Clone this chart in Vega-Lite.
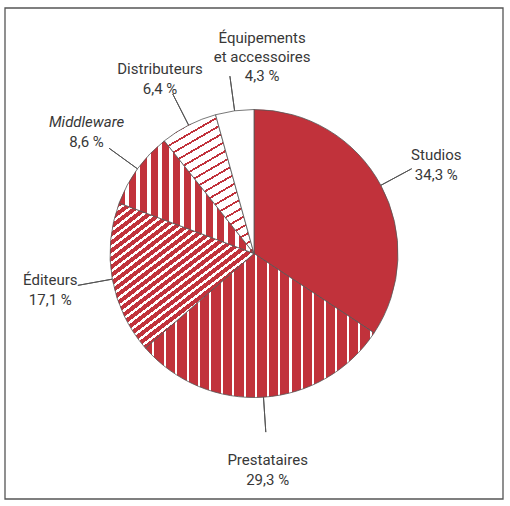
{
  "$schema": "https://vega.github.io/schema/vega-lite/v6.json",
  "width": 510,
  "height": 506,
  "autosize": {"type": "fit", "contains": "padding"},
  "padding": {"left": 4, "top": 7, "right": 6, "bottom": 6},
  "background": "white",
  "config": {
    "view": {"stroke": null},
    "text": {"font": "Roboto", "fontSize": 15, "color": "#383838", "align": "center", "baseline": "middle", "radius": 207}
  },
  "data": {
    "values": [
      {"cat": "Studios", "ord": 1, "pct": 34.3, "label": "Studios\n34,3 %", "name": "Studios", "pctText": "34,3 %"},
      {"cat": "Prestataires", "ord": 2, "pct": 29.3, "label": "Prestataires\n29,3 %", "name": "Prestataires", "pctText": "29,3 %"},
      {"cat": "Éditeurs", "ord": 3, "pct": 17.1, "label": "Éditeurs\n17,1 %", "name": "Éditeurs", "pctText": "17,1 %"},
      {"cat": "Middleware", "ord": 4, "pct": 8.6, "label": "Middleware\n8,6 %", "name": "Middleware", "pctText": "8,6 %"},
      {"cat": "Distributeurs", "ord": 5, "pct": 6.4, "label": "Distributeurs\n6,4 %", "name": "Distributeurs", "pctText": "6,4 %"},
      {"cat": "Équipements et accessoires", "ord": 6, "pct": 4.3, "label": "Équipements\net accessoires\n4,3 %", "name": "Équipements\net accessoires", "pctText": "4,3 %"}
    ]
  },
  "transform": [
    {"stack": "pct", "groupby": [], "sort": [{"field": "ord", "order": "ascending"}], "as": ["s0", "s1"]},
    {"fold": ["s0", "s1"], "as": ["edge", "pos"]},
    {
      "aggregate": [
        {"op": "min", "field": "pos", "as": "a0"},
        {"op": "max", "field": "pos", "as": "a1"},
        {"op": "mean", "field": "pos", "as": "mid"}
      ],
      "groupby": ["cat", "label", "name", "pctText"]
    }
  ],
  "layer": [
    {
      "data": {"values": [{}]},
      "mark": {"type": "rect", "fill": null, "stroke": "#555555", "strokeWidth": 1.3},
      "encoding": {
        "x": {"value": 0}, "x2": {"value": "width"},
        "y": {"value": 0}, "y2": {"value": "height"}
      }
    },
    {
      "mark": {"type": "arc", "radius": 144, "stroke": "#555555", "strokeWidth": 0.8},
      "encoding": {
        "theta": {"field": "a0", "type": "quantitative", "scale": {"domain": [0, 100]}, "stack": null},
        "theta2": {"field": "a1"},
        "fill": {
          "condition": [
            {
              "test": "datum.cat === 'Prestataires'",
              "value": {
                "gradient": "linear", "x1": 0, "y1": 0, "x2": 1, "y2": 0,
                "stops": [
                  {"offset": 0, "color": "#c1323b"},
                  {"offset": 0.03, "color": "#c1323b"}, {"offset": 0.03, "color": "#ffffff"}, {"offset": 0.039, "color": "#ffffff"}, {"offset": 0.039, "color": "#c1323b"},
                  {"offset": 0.08, "color": "#c1323b"}, {"offset": 0.08, "color": "#ffffff"}, {"offset": 0.089, "color": "#ffffff"}, {"offset": 0.089, "color": "#c1323b"},
                  {"offset": 0.13, "color": "#c1323b"}, {"offset": 0.13, "color": "#ffffff"}, {"offset": 0.139, "color": "#ffffff"}, {"offset": 0.139, "color": "#c1323b"},
                  {"offset": 0.18, "color": "#c1323b"}, {"offset": 0.18, "color": "#ffffff"}, {"offset": 0.189, "color": "#ffffff"}, {"offset": 0.189, "color": "#c1323b"},
                  {"offset": 0.23, "color": "#c1323b"}, {"offset": 0.23, "color": "#ffffff"}, {"offset": 0.239, "color": "#ffffff"}, {"offset": 0.239, "color": "#c1323b"},
                  {"offset": 0.28, "color": "#c1323b"}, {"offset": 0.28, "color": "#ffffff"}, {"offset": 0.289, "color": "#ffffff"}, {"offset": 0.289, "color": "#c1323b"},
                  {"offset": 0.33, "color": "#c1323b"}, {"offset": 0.33, "color": "#ffffff"}, {"offset": 0.339, "color": "#ffffff"}, {"offset": 0.339, "color": "#c1323b"},
                  {"offset": 0.38, "color": "#c1323b"}, {"offset": 0.38, "color": "#ffffff"}, {"offset": 0.389, "color": "#ffffff"}, {"offset": 0.389, "color": "#c1323b"},
                  {"offset": 0.43, "color": "#c1323b"}, {"offset": 0.43, "color": "#ffffff"}, {"offset": 0.439, "color": "#ffffff"}, {"offset": 0.439, "color": "#c1323b"},
                  {"offset": 0.48, "color": "#c1323b"}, {"offset": 0.48, "color": "#ffffff"}, {"offset": 0.489, "color": "#ffffff"}, {"offset": 0.489, "color": "#c1323b"},
                  {"offset": 0.53, "color": "#c1323b"}, {"offset": 0.53, "color": "#ffffff"}, {"offset": 0.539, "color": "#ffffff"}, {"offset": 0.539, "color": "#c1323b"},
                  {"offset": 0.58, "color": "#c1323b"}, {"offset": 0.58, "color": "#ffffff"}, {"offset": 0.589, "color": "#ffffff"}, {"offset": 0.589, "color": "#c1323b"},
                  {"offset": 0.63, "color": "#c1323b"}, {"offset": 0.63, "color": "#ffffff"}, {"offset": 0.639, "color": "#ffffff"}, {"offset": 0.639, "color": "#c1323b"},
                  {"offset": 0.68, "color": "#c1323b"}, {"offset": 0.68, "color": "#ffffff"}, {"offset": 0.689, "color": "#ffffff"}, {"offset": 0.689, "color": "#c1323b"},
                  {"offset": 0.73, "color": "#c1323b"}, {"offset": 0.73, "color": "#ffffff"}, {"offset": 0.739, "color": "#ffffff"}, {"offset": 0.739, "color": "#c1323b"},
                  {"offset": 0.78, "color": "#c1323b"}, {"offset": 0.78, "color": "#ffffff"}, {"offset": 0.789, "color": "#ffffff"}, {"offset": 0.789, "color": "#c1323b"},
                  {"offset": 0.83, "color": "#c1323b"}, {"offset": 0.83, "color": "#ffffff"}, {"offset": 0.839, "color": "#ffffff"}, {"offset": 0.839, "color": "#c1323b"},
                  {"offset": 0.88, "color": "#c1323b"}, {"offset": 0.88, "color": "#ffffff"}, {"offset": 0.889, "color": "#ffffff"}, {"offset": 0.889, "color": "#c1323b"},
                  {"offset": 0.93, "color": "#c1323b"}, {"offset": 0.93, "color": "#ffffff"}, {"offset": 0.939, "color": "#ffffff"}, {"offset": 0.939, "color": "#c1323b"},
                  {"offset": 0.98, "color": "#c1323b"}, {"offset": 0.98, "color": "#ffffff"}, {"offset": 0.989, "color": "#ffffff"}, {"offset": 0.989, "color": "#c1323b"},
                  {"offset": 1, "color": "#c1323b"}
                ]
              }
            },
            {
              "test": "datum.cat === 'Éditeurs'",
              "value": {
                "gradient": "linear", "x1": 0, "y1": 0, "x2": 0.843, "y2": 1.118,
                "stops": [
                  {"offset": 0, "color": "#c1323b"},
                  {"offset": 0.010, "color": "#c1323b"}, {"offset": 0.010, "color": "#ffffff"}, {"offset": 0.022, "color": "#ffffff"}, {"offset": 0.022, "color": "#c1323b"},
                  {"offset": 0.042, "color": "#c1323b"}, {"offset": 0.042, "color": "#ffffff"}, {"offset": 0.054, "color": "#ffffff"}, {"offset": 0.054, "color": "#c1323b"},
                  {"offset": 0.074, "color": "#c1323b"}, {"offset": 0.074, "color": "#ffffff"}, {"offset": 0.086, "color": "#ffffff"}, {"offset": 0.086, "color": "#c1323b"},
                  {"offset": 0.106, "color": "#c1323b"}, {"offset": 0.106, "color": "#ffffff"}, {"offset": 0.118, "color": "#ffffff"}, {"offset": 0.118, "color": "#c1323b"},
                  {"offset": 0.138, "color": "#c1323b"}, {"offset": 0.138, "color": "#ffffff"}, {"offset": 0.150, "color": "#ffffff"}, {"offset": 0.150, "color": "#c1323b"},
                  {"offset": 0.170, "color": "#c1323b"}, {"offset": 0.170, "color": "#ffffff"}, {"offset": 0.182, "color": "#ffffff"}, {"offset": 0.182, "color": "#c1323b"},
                  {"offset": 0.202, "color": "#c1323b"}, {"offset": 0.202, "color": "#ffffff"}, {"offset": 0.214, "color": "#ffffff"}, {"offset": 0.214, "color": "#c1323b"},
                  {"offset": 0.234, "color": "#c1323b"}, {"offset": 0.234, "color": "#ffffff"}, {"offset": 0.246, "color": "#ffffff"}, {"offset": 0.246, "color": "#c1323b"},
                  {"offset": 0.266, "color": "#c1323b"}, {"offset": 0.266, "color": "#ffffff"}, {"offset": 0.278, "color": "#ffffff"}, {"offset": 0.278, "color": "#c1323b"},
                  {"offset": 0.298, "color": "#c1323b"}, {"offset": 0.298, "color": "#ffffff"}, {"offset": 0.310, "color": "#ffffff"}, {"offset": 0.310, "color": "#c1323b"},
                  {"offset": 0.330, "color": "#c1323b"}, {"offset": 0.330, "color": "#ffffff"}, {"offset": 0.342, "color": "#ffffff"}, {"offset": 0.342, "color": "#c1323b"},
                  {"offset": 0.362, "color": "#c1323b"}, {"offset": 0.362, "color": "#ffffff"}, {"offset": 0.374, "color": "#ffffff"}, {"offset": 0.374, "color": "#c1323b"},
                  {"offset": 0.394, "color": "#c1323b"}, {"offset": 0.394, "color": "#ffffff"}, {"offset": 0.406, "color": "#ffffff"}, {"offset": 0.406, "color": "#c1323b"},
                  {"offset": 0.426, "color": "#c1323b"}, {"offset": 0.426, "color": "#ffffff"}, {"offset": 0.438, "color": "#ffffff"}, {"offset": 0.438, "color": "#c1323b"},
                  {"offset": 0.458, "color": "#c1323b"}, {"offset": 0.458, "color": "#ffffff"}, {"offset": 0.470, "color": "#ffffff"}, {"offset": 0.470, "color": "#c1323b"},
                  {"offset": 0.490, "color": "#c1323b"}, {"offset": 0.490, "color": "#ffffff"}, {"offset": 0.502, "color": "#ffffff"}, {"offset": 0.502, "color": "#c1323b"},
                  {"offset": 0.522, "color": "#c1323b"}, {"offset": 0.522, "color": "#ffffff"}, {"offset": 0.534, "color": "#ffffff"}, {"offset": 0.534, "color": "#c1323b"},
                  {"offset": 0.554, "color": "#c1323b"}, {"offset": 0.554, "color": "#ffffff"}, {"offset": 0.566, "color": "#ffffff"}, {"offset": 0.566, "color": "#c1323b"},
                  {"offset": 0.586, "color": "#c1323b"}, {"offset": 0.586, "color": "#ffffff"}, {"offset": 0.598, "color": "#ffffff"}, {"offset": 0.598, "color": "#c1323b"},
                  {"offset": 0.618, "color": "#c1323b"}, {"offset": 0.618, "color": "#ffffff"}, {"offset": 0.630, "color": "#ffffff"}, {"offset": 0.630, "color": "#c1323b"},
                  {"offset": 0.650, "color": "#c1323b"}, {"offset": 0.650, "color": "#ffffff"}, {"offset": 0.662, "color": "#ffffff"}, {"offset": 0.662, "color": "#c1323b"},
                  {"offset": 0.682, "color": "#c1323b"}, {"offset": 0.682, "color": "#ffffff"}, {"offset": 0.694, "color": "#ffffff"}, {"offset": 0.694, "color": "#c1323b"},
                  {"offset": 0.714, "color": "#c1323b"}, {"offset": 0.714, "color": "#ffffff"}, {"offset": 0.726, "color": "#ffffff"}, {"offset": 0.726, "color": "#c1323b"},
                  {"offset": 0.746, "color": "#c1323b"}, {"offset": 0.746, "color": "#ffffff"}, {"offset": 0.758, "color": "#ffffff"}, {"offset": 0.758, "color": "#c1323b"},
                  {"offset": 0.778, "color": "#c1323b"}, {"offset": 0.778, "color": "#ffffff"}, {"offset": 0.790, "color": "#ffffff"}, {"offset": 0.790, "color": "#c1323b"},
                  {"offset": 0.810, "color": "#c1323b"}, {"offset": 0.810, "color": "#ffffff"}, {"offset": 0.822, "color": "#ffffff"}, {"offset": 0.822, "color": "#c1323b"},
                  {"offset": 0.842, "color": "#c1323b"}, {"offset": 0.842, "color": "#ffffff"}, {"offset": 0.854, "color": "#ffffff"}, {"offset": 0.854, "color": "#c1323b"},
                  {"offset": 0.874, "color": "#c1323b"}, {"offset": 0.874, "color": "#ffffff"}, {"offset": 0.886, "color": "#ffffff"}, {"offset": 0.886, "color": "#c1323b"},
                  {"offset": 0.906, "color": "#c1323b"}, {"offset": 0.906, "color": "#ffffff"}, {"offset": 0.918, "color": "#ffffff"}, {"offset": 0.918, "color": "#c1323b"},
                  {"offset": 0.938, "color": "#c1323b"}, {"offset": 0.938, "color": "#ffffff"}, {"offset": 0.950, "color": "#ffffff"}, {"offset": 0.950, "color": "#c1323b"},
                  {"offset": 0.970, "color": "#c1323b"}, {"offset": 0.970, "color": "#ffffff"}, {"offset": 0.982, "color": "#ffffff"}, {"offset": 0.982, "color": "#c1323b"},
                  {"offset": 1, "color": "#c1323b"}
                ]
              }
            },
            {
              "test": "datum.cat === 'Middleware'",
              "value": {
                "gradient": "linear", "x1": 0, "y1": 0, "x2": 1, "y2": 0,
                "stops": [
                  {"offset": 0, "color": "#c1323b"},
                  {"offset": 0.040, "color": "#c1323b"}, {"offset": 0.040, "color": "#ffffff"}, {"offset": 0.072, "color": "#ffffff"}, {"offset": 0.072, "color": "#c1323b"},
                  {"offset": 0.122, "color": "#c1323b"}, {"offset": 0.122, "color": "#ffffff"}, {"offset": 0.154, "color": "#ffffff"}, {"offset": 0.154, "color": "#c1323b"},
                  {"offset": 0.204, "color": "#c1323b"}, {"offset": 0.204, "color": "#ffffff"}, {"offset": 0.236, "color": "#ffffff"}, {"offset": 0.236, "color": "#c1323b"},
                  {"offset": 0.286, "color": "#c1323b"}, {"offset": 0.286, "color": "#ffffff"}, {"offset": 0.318, "color": "#ffffff"}, {"offset": 0.318, "color": "#c1323b"},
                  {"offset": 0.368, "color": "#c1323b"}, {"offset": 0.368, "color": "#ffffff"}, {"offset": 0.400, "color": "#ffffff"}, {"offset": 0.400, "color": "#c1323b"},
                  {"offset": 0.450, "color": "#c1323b"}, {"offset": 0.450, "color": "#ffffff"}, {"offset": 0.482, "color": "#ffffff"}, {"offset": 0.482, "color": "#c1323b"},
                  {"offset": 0.532, "color": "#c1323b"}, {"offset": 0.532, "color": "#ffffff"}, {"offset": 0.564, "color": "#ffffff"}, {"offset": 0.564, "color": "#c1323b"},
                  {"offset": 0.614, "color": "#c1323b"}, {"offset": 0.614, "color": "#ffffff"}, {"offset": 0.646, "color": "#ffffff"}, {"offset": 0.646, "color": "#c1323b"},
                  {"offset": 0.696, "color": "#c1323b"}, {"offset": 0.696, "color": "#ffffff"}, {"offset": 0.728, "color": "#ffffff"}, {"offset": 0.728, "color": "#c1323b"},
                  {"offset": 0.778, "color": "#c1323b"}, {"offset": 0.778, "color": "#ffffff"}, {"offset": 0.810, "color": "#ffffff"}, {"offset": 0.810, "color": "#c1323b"},
                  {"offset": 0.860, "color": "#c1323b"}, {"offset": 0.860, "color": "#ffffff"}, {"offset": 0.892, "color": "#ffffff"}, {"offset": 0.892, "color": "#c1323b"},
                  {"offset": 0.942, "color": "#c1323b"}, {"offset": 0.942, "color": "#ffffff"}, {"offset": 0.974, "color": "#ffffff"}, {"offset": 0.974, "color": "#c1323b"},
                  {"offset": 1, "color": "#c1323b"}
                ]
              }
            },
            {
              "test": "datum.cat === 'Distributeurs'",
              "value": {
                "gradient": "linear", "x1": 0, "y1": 0, "x2": 0.4506, "y2": 1.205,
                "stops": [
                  {"offset": 0, "color": "#ffffff"},
                  {"offset": 0.020, "color": "#ffffff"}, {"offset": 0.020, "color": "#c1323b"}, {"offset": 0.031, "color": "#c1323b"}, {"offset": 0.031, "color": "#ffffff"},
                  {"offset": 0.070, "color": "#ffffff"}, {"offset": 0.070, "color": "#c1323b"}, {"offset": 0.081, "color": "#c1323b"}, {"offset": 0.081, "color": "#ffffff"},
                  {"offset": 0.120, "color": "#ffffff"}, {"offset": 0.120, "color": "#c1323b"}, {"offset": 0.131, "color": "#c1323b"}, {"offset": 0.131, "color": "#ffffff"},
                  {"offset": 0.170, "color": "#ffffff"}, {"offset": 0.170, "color": "#c1323b"}, {"offset": 0.181, "color": "#c1323b"}, {"offset": 0.181, "color": "#ffffff"},
                  {"offset": 0.220, "color": "#ffffff"}, {"offset": 0.220, "color": "#c1323b"}, {"offset": 0.231, "color": "#c1323b"}, {"offset": 0.231, "color": "#ffffff"},
                  {"offset": 0.270, "color": "#ffffff"}, {"offset": 0.270, "color": "#c1323b"}, {"offset": 0.281, "color": "#c1323b"}, {"offset": 0.281, "color": "#ffffff"},
                  {"offset": 0.320, "color": "#ffffff"}, {"offset": 0.320, "color": "#c1323b"}, {"offset": 0.331, "color": "#c1323b"}, {"offset": 0.331, "color": "#ffffff"},
                  {"offset": 0.370, "color": "#ffffff"}, {"offset": 0.370, "color": "#c1323b"}, {"offset": 0.381, "color": "#c1323b"}, {"offset": 0.381, "color": "#ffffff"},
                  {"offset": 0.420, "color": "#ffffff"}, {"offset": 0.420, "color": "#c1323b"}, {"offset": 0.431, "color": "#c1323b"}, {"offset": 0.431, "color": "#ffffff"},
                  {"offset": 0.470, "color": "#ffffff"}, {"offset": 0.470, "color": "#c1323b"}, {"offset": 0.481, "color": "#c1323b"}, {"offset": 0.481, "color": "#ffffff"},
                  {"offset": 0.520, "color": "#ffffff"}, {"offset": 0.520, "color": "#c1323b"}, {"offset": 0.531, "color": "#c1323b"}, {"offset": 0.531, "color": "#ffffff"},
                  {"offset": 0.570, "color": "#ffffff"}, {"offset": 0.570, "color": "#c1323b"}, {"offset": 0.581, "color": "#c1323b"}, {"offset": 0.581, "color": "#ffffff"},
                  {"offset": 0.620, "color": "#ffffff"}, {"offset": 0.620, "color": "#c1323b"}, {"offset": 0.631, "color": "#c1323b"}, {"offset": 0.631, "color": "#ffffff"},
                  {"offset": 0.670, "color": "#ffffff"}, {"offset": 0.670, "color": "#c1323b"}, {"offset": 0.681, "color": "#c1323b"}, {"offset": 0.681, "color": "#ffffff"},
                  {"offset": 0.720, "color": "#ffffff"}, {"offset": 0.720, "color": "#c1323b"}, {"offset": 0.731, "color": "#c1323b"}, {"offset": 0.731, "color": "#ffffff"},
                  {"offset": 0.770, "color": "#ffffff"}, {"offset": 0.770, "color": "#c1323b"}, {"offset": 0.781, "color": "#c1323b"}, {"offset": 0.781, "color": "#ffffff"},
                  {"offset": 0.820, "color": "#ffffff"}, {"offset": 0.820, "color": "#c1323b"}, {"offset": 0.831, "color": "#c1323b"}, {"offset": 0.831, "color": "#ffffff"},
                  {"offset": 0.870, "color": "#ffffff"}, {"offset": 0.870, "color": "#c1323b"}, {"offset": 0.881, "color": "#c1323b"}, {"offset": 0.881, "color": "#ffffff"},
                  {"offset": 0.920, "color": "#ffffff"}, {"offset": 0.920, "color": "#c1323b"}, {"offset": 0.931, "color": "#c1323b"}, {"offset": 0.931, "color": "#ffffff"},
                  {"offset": 0.970, "color": "#ffffff"}, {"offset": 0.970, "color": "#c1323b"}, {"offset": 0.981, "color": "#c1323b"}, {"offset": 0.981, "color": "#ffffff"},
                  {"offset": 1, "color": "#ffffff"}
                ]
              }
            },
            {"test": "datum.cat === 'Équipements et accessoires'", "value": "#ffffff"}
          ],
          "value": "#c1323b"
        }
      }
    },
    {
      "mark": {"type": "arc", "radius": 179, "radius2": 144, "filled": false, "stroke": "#555555", "strokeWidth": 1},
      "encoding": {
        "theta": {"field": "mid", "type": "quantitative", "scale": {"domain": [0, 100]}, "stack": null},
        "theta2": {"field": "mid"}
      }
    },
    {
      "transform": [{"filter": "datum.cat === 'Studios' || datum.cat === 'Prestataires' || datum.cat === 'Distributeurs'"}],
      "mark": {"type": "text", "lineBreak": "\n", "lineHeight": 20},
      "encoding": {
        "theta": {"field": "mid", "type": "quantitative", "scale": {"domain": [0, 100]}, "stack": null},
        "text": {"field": "label"}
      }
    },
    {
      "transform": [{"filter": "datum.cat === 'Éditeurs'"}],
      "mark": {"type": "text", "lineBreak": "\n", "lineHeight": 20, "dy": -10},
      "encoding": {
        "theta": {"field": "mid", "type": "quantitative", "scale": {"domain": [0, 100]}, "stack": null},
        "text": {"field": "label"}
      }
    },
    {
      "transform": [{"filter": "datum.cat === 'Équipements et accessoires'"}],
      "mark": {"type": "text", "lineBreak": "\n", "lineHeight": 19, "dx": 36, "dy": -10},
      "encoding": {
        "theta": {"field": "mid", "type": "quantitative", "scale": {"domain": [0, 100]}, "stack": null},
        "text": {"field": "label"}
      }
    },
    {
      "transform": [{"filter": "datum.cat === 'Middleware'"}],
      "mark": {"type": "text", "dy": -10, "fontStyle": "italic"},
      "encoding": {
        "theta": {"field": "mid", "type": "quantitative", "scale": {"domain": [0, 100]}, "stack": null},
        "text": {"field": "name"}
      }
    },
    {
      "transform": [{"filter": "datum.cat === 'Middleware'"}],
      "mark": {"type": "text", "dy": 10},
      "encoding": {
        "theta": {"field": "mid", "type": "quantitative", "scale": {"domain": [0, 100]}, "stack": null},
        "text": {"field": "pctText"}
      }
    }
  ]
}
